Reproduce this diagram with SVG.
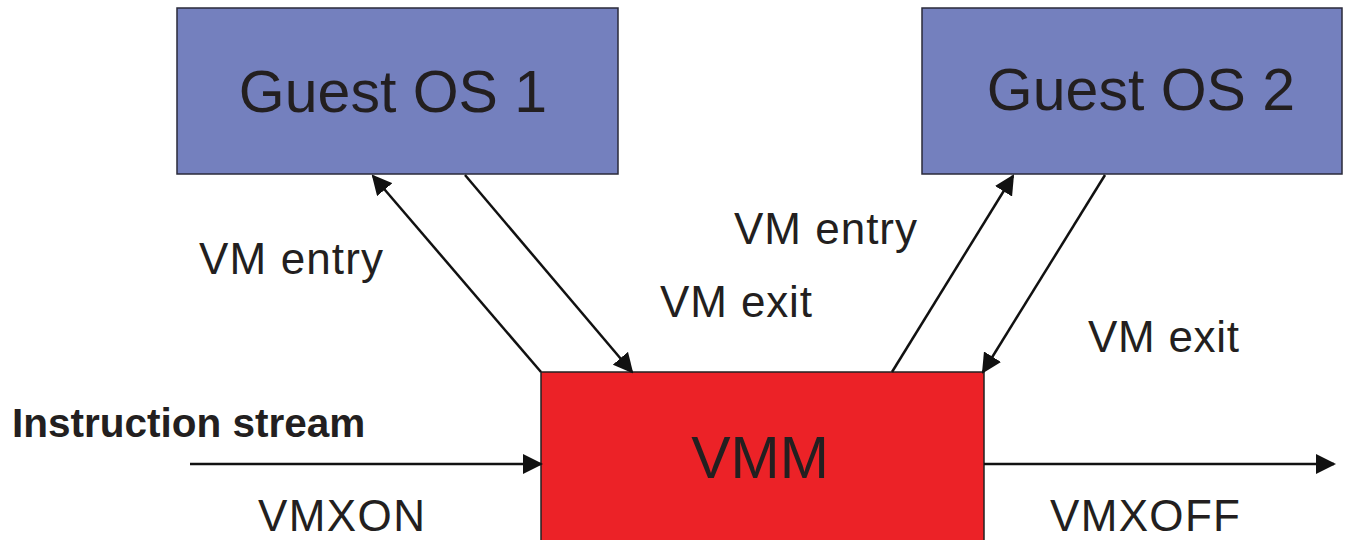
<svg xmlns="http://www.w3.org/2000/svg" width="1346" height="540" viewBox="0 0 1346 540">
<defs>
<style>
.guest{fill:#7480BE;stroke:#2a2a3a;stroke-width:1.5}
.vmm{fill:#EC2227;stroke:#222;stroke-width:1.5}
.t{font-family:"Liberation Sans",Arial,sans-serif;fill:#231F20}
.big{font-size:59px;text-anchor:middle}
.lbl{font-size:44px}
.conn{stroke:#111;stroke-width:2.5;fill:none}
</style>
<marker id="ah2" viewBox="0 0 10 10" refX="9" refY="5" markerWidth="8" markerHeight="8" orient="auto">
<path d="M0,0 L10,5 L0,10 z" fill="#111"/>
</marker>
</defs>
<rect width="1346" height="540" fill="#fff"/>
<g id="guest1">
<rect class="guest" x="177" y="8" width="441" height="166"/>
<text class="t big" x="393" y="112">Guest OS 1</text>
</g>
<g id="guest2">
<rect class="guest" x="922" y="8" width="420" height="166"/>
<text class="t big" x="1141" y="110">Guest OS 2</text>
</g>
<g id="vmm">
<rect class="vmm" x="541" y="372" width="443" height="180"/>
<text class="t big" x="760" y="478">VMM</text>
</g>
<g id="connectors">
<line class="conn" x1="541" y1="372" x2="373" y2="176" marker-end="url(#ah2)"/>
<line class="conn" x1="465" y1="175" x2="632" y2="372" marker-end="url(#ah2)"/>
<line class="conn" x1="892" y1="372" x2="1013" y2="176" marker-end="url(#ah2)"/>
<line class="conn" x1="1105" y1="175" x2="983" y2="372" marker-end="url(#ah2)"/>
<line class="conn" x1="190" y1="464" x2="541" y2="464" marker-end="url(#ah2)"/>
<line class="conn" x1="984" y1="464" x2="1334" y2="464" marker-end="url(#ah2)"/>
</g>
<g id="labels">
<text class="t lbl" x="199" y="274" textLength="184">VM entry</text>
<text class="t lbl" x="660" y="317" textLength="152">VM exit</text>
<text class="t lbl" x="734" y="244" textLength="183">VM entry</text>
<text class="t lbl" x="1088" y="352" textLength="151">VM exit</text>
<text class="t" x="12" y="437" font-size="40.5" font-weight="bold">Instruction stream</text>
<text class="t lbl" x="258" y="531" textLength="167">VMXON</text>
<text class="t lbl" x="1050" y="531" textLength="190">VMXOFF</text>
</g>
</svg>
